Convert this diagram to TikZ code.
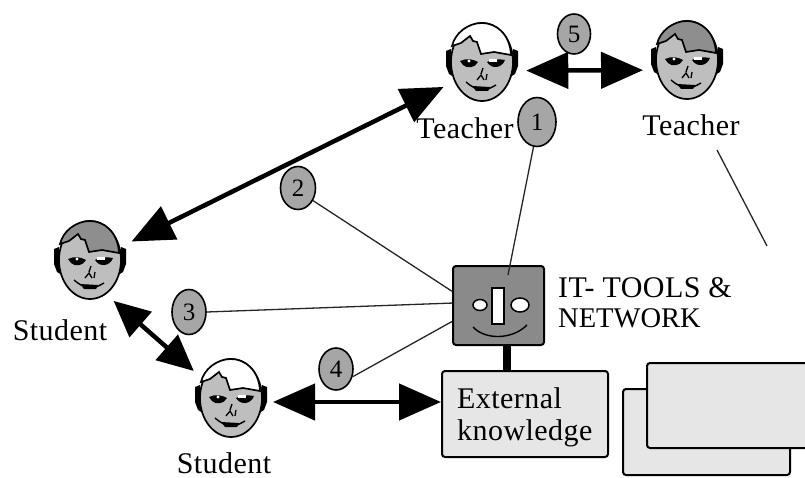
\documentclass[tikz,border=0pt]{standalone}
\usepackage{fontspec}
\setmainfont{Liberation Serif}
\newfontfamily\spaced[LetterSpace=1.5]{Liberation Serif}
\usetikzlibrary{arrows.meta,shapes.geometric}
\definecolor{skin}{HTML}{BEBEBE}
\definecolor{hairdark}{HTML}{8E8E8E}
\definecolor{badgegray}{HTML}{A6A6A6}
\definecolor{boxdark}{HTML}{8A8A8A}
\definecolor{boxlight}{HTML}{E6E6E6}
\tikzset{
  x=1pt,y=-1pt,
  hit/.style={ellipse,minimum width=90pt,minimum height=96pt,inner sep=0pt,outer sep=0pt},
  badge/.style={ellipse,draw=black,line width=1.6pt,fill=badgegray,inner sep=0pt,font=\fontsize{25}{25}\selectfont},
  wire/.style={line width=1.3pt,draw=black!85},
  twoway/.style={line width=4.5pt,{Triangle[length=42pt,width=36pt]}-{Triangle[length=42pt,width=36pt]}},
  lbl/.style={inner sep=0pt,font=\spaced\fontsize{30}{30}\selectfont,align=left},
  plate/.style={draw=black,line width=2pt,fill=boxlight,rounded corners=3pt},
  toolpart/.style={draw=black,fill=white,line width=1.5pt,inner sep=0pt},
  pics/face/.style={code={
    \fill[black] (-36,-11) -- (-31,-13) -- (-28,15) -- (-33,12) -- (-36,4) -- cycle;
    \fill[black] (36,-11) -- (31,-13) -- (28,15) -- (33,12) -- (36,4) -- cycle;
    \draw[fill=skin,line width=1.7pt] (0,0) ellipse [x radius=31,y radius=39];
    \draw[fill=#1,line width=1.7pt] (-30,-16) -- (-21,-19) -- (-12,-26) -- (-9,-21) -- (-5,-20) -- (-1,-8) -- (12,-10) -- (29,-7)
       .. controls (28,-28) and (14,-39) .. (0,-39) .. controls (-14,-39) and (-27,-29) .. (-30,-16) -- cycle;
    \fill[black] (-22,-1) .. controls (-16,-4) and (-9,-3) .. (-4,0) .. controls (-7,6) and (-15,7) .. (-19,3) -- cycle;
    \fill[black] (5,0) .. controls (10,-3) and (18,-3) .. (23,-2) .. controls (20,6) and (10,8) .. (5,0) -- cycle;
    \fill[white] (-13,-1) circle (1.6);
    \fill[white] (7,-3) rectangle (15,0);
    \draw[line width=1.3pt] (1,6) -- (-1,12) (-5,18) -- (-1,13) -- (2,18) (5,12)--(4,18);
    \draw[line width=1.4pt] (-16,20) .. controls (-10,25) and (-5,28) .. (1,28) .. controls (6,28) and (10,25) .. (14,23);
    \fill[black] (-10,24) -- (8,25) -- (6,29) -- (-6,29) -- cycle;
  }}
}
\begin{document}
\begin{tikzpicture}
\useasboundingbox (0,0) rectangle (805,478);
\clip (0,0) rectangle (805,478);
% faces
\node[hit] (t1) at (482,62) {};
\node[hit] (t2) at (687,60) {};
\node[hit] (s1) at (90,260) {};
\node[hit] (s2) at (231,398) {};
\pic at (t1) {face=white};
\pic at (t2) {face=hairdark};
\pic at (s1) {face=hairdark};
\pic at (s2) {face=white};
% labels
\node[lbl,anchor=base] (lt1) at (465,139) {Teacher};
\node[lbl,anchor=base] (lt2) at (691,136) {Teacher};
\node[lbl,anchor=base] (ls1) at (60,340) {Student};
\node[lbl,anchor=base] (ls2) at (224,473) {Student};
% boxes
\node[plate,minimum width=167pt,minimum height=86pt] (back) at (706.5,432) {};
\node[plate,minimum width=175pt,minimum height=85pt] (front) at (734.5,405.5) {};
\node[plate,minimum width=166pt,minimum height=86pt,inner sep=0pt] (ext) at (525,414) {};
\node[lbl,anchor=base west] (ext1) at (457,408) {External};
\node[lbl,anchor=base west] (ext2) at (457,440) {knowledge};
\node[draw=black,line width=2pt,fill=boxdark,rounded corners=3pt,minimum width=91pt,minimum height=79pt,inner sep=0pt] (net) at (498.5,305.5) {};
\node[lbl,anchor=base west] (it1) at (558,297) {IT- TOOLS \&};
\node[inner sep=0pt,font=\fontsize{28.5}{28.5}\selectfont,anchor=base west] (it2) at (558,327) {NETWORK};
% tool face
\node[toolpart,minimum width=12pt,minimum height=36pt] (nose) at (498,306) {};
\node[toolpart,ellipse,minimum width=14pt,minimum height=11pt] (eye1) at (480,305) {};
\node[toolpart,ellipse,minimum width=18pt,minimum height=14pt] (eye2) at (520,305) {};
\coordinate (sm1) at (473,327);
\coordinate (sm2) at (527,325);
\draw[line width=1.4pt] (sm1) .. controls (485,340) and (512,340) .. (sm2);
% badges
\node[badge,minimum width=38pt,minimum height=49pt] (b1) at (537,122) {1};
\node[badge,minimum width=33pt,minimum height=40pt] (b5) at (574,34) {5};
\node[badge,minimum width=35pt,minimum height=43pt] (b2) at (298,188) {2};
\node[badge,minimum width=34pt,minimum height=45pt] (b3) at (189,312) {3};
\node[badge,minimum width=34pt,minimum height=42pt] (b4) at (336,369) {4};
% wires
\coordinate (w1) at (508,275);
\draw[wire] (b1.262) -- (w1);
\draw[wire] (b2.-40) -- (net.163);
\draw[wire] (b3.east) -- (net.177);
\draw[wire] (b4.-25) -- (net.199);
\coordinate (f1) at (717,150);
\coordinate (f2) at (767,246);
\draw[wire] (f1) -- (f2);
\draw[line width=8pt] (net.south) ++(8.5,0) coordinate (n1) -- (n1 |- ext.north);
% two-way arrows
\draw[twoway] (t1.-11) -- (t2.193);
\draw[twoway] (t1.213) -- (s1.24);
\draw[line width=4.5pt,{Triangle[length=36pt,width=33pt]}-{Triangle[length=36pt,width=33pt]}] (s1.-60) -- (s2.144);
\draw[twoway] (s2.east) ++(-3,4) coordinate (a1) -- (a1 -| ext.west);
\end{tikzpicture}
\end{document}
